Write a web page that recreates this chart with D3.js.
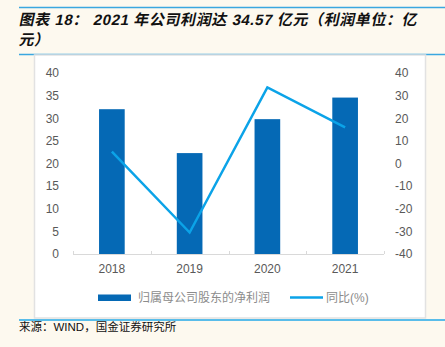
<!DOCTYPE html>
<html>
<head>
<meta charset="utf-8">
<script src="https://cdn.jsdelivr.net/npm/d3@7"></script>
<style>
  html, body { margin: 0; padding: 0; background: #fdf9ef; }
  svg { display: block; }
  text { font-family: "Liberation Sans", "Noto Sans CJK SC", sans-serif; }
</style>
</head>
<body>
<div id="chart"></div>
<script>
// data: net profit attributable to parent (100m yuan) and yoy growth (%)
var years = ["2018", "2019", "2020", "2021"];
var profit = [32.0, 22.3, 29.8, 34.57];
var yoy = [5.2, -30.5, 33.6, 16.0];
var leftTicks = [0, 5, 10, 15, 20, 25, 30, 35, 40];
var rightTicks = [-40, -30, -20, -10, 0, 10, 20, 30, 40];

var w = 445, h = 347;
var plot = { left: 73, right: 384, top: 73, bottom: 254 };

var svg = d3.select("#chart").append("svg")
    .attr("width", w)
    .attr("height", h);

// background + header lines
svg.append("rect").attr("width", w).attr("height", h).attr("fill", "#fdf9ef");
svg.append("line").attr("x1", 19).attr("x2", w).attr("y1", 7.5).attr("y2", 7.5)
    .attr("stroke", "#3aa7e0").attr("stroke-width", 1.5);
svg.append("line").attr("x1", 19).attr("x2", w).attr("y1", 54.5).attr("y2", 54.5)
    .attr("stroke", "#3aa7e0").attr("stroke-width", 1.5);

// title
var title = svg.append("g")
    .attr("font-family", "'Noto Sans CJK SC', sans-serif")
    .attr("font-weight", "bold")
    .attr("font-size", 15)
    .attr("letter-spacing", 0.6)
    .attr("fill", "#111");
title.append("text").attr("x", 19).attr("y", 25)
    .attr("transform", "skewX(-12) translate(5,0)")
    .text("图表 18： 2021 年公司利润达 34.57 亿元（利润单位：亿");
title.append("text").attr("x", 19).attr("y", 45)
    .attr("transform", "skewX(-12) translate(9,0)")
    .text("元）");

// white chart panel
svg.append("rect")
    .attr("x", 34.5).attr("y", 55)
    .attr("width", 391).attr("height", 263)
    .attr("fill", "#fff")
    .attr("stroke", "#e2e2e2")
    .attr("stroke-width", 1.5);

// bottom line + source
svg.append("line").attr("x1", 19).attr("x2", w).attr("y1", 320).attr("y2", 320)
    .attr("stroke", "#22a8e8").attr("stroke-width", 1.5);
svg.append("text")
    .attr("x", 19).attr("y", 331)
    .attr("font-size", 11.5)
    .attr("fill", "#111")
    .attr("font-family", "'Noto Sans CJK SC', sans-serif")
    .text("来源：WIND，国金证券研究所");

// scales
var xScale = d3.scaleBand()
    .domain(years)
    .range([plot.left, plot.right])
    .padding(0);

var yLeft = d3.scaleLinear()
    .domain([0, 40])
    .range([plot.bottom, plot.top]);

var yRight = d3.scaleLinear()
    .domain([-40, 40])
    .range([plot.bottom, plot.top]);

var barW = xScale.bandwidth() * 0.33;
var plain = function(d) { return String(d); };

// left axis labels
svg.append("g")
    .attr("transform", "translate(59,0)")
    .call(d3.axisLeft(yLeft).tickValues(leftTicks).tickFormat(plain).tickSize(0).tickPadding(0))
    .call(function(g) { g.select(".domain").remove(); })
    .selectAll("text")
    .attr("font-size", 12)
    .attr("fill", "#595959")
    .attr("font-family", "'Liberation Sans', sans-serif");

// right axis labels (plain hyphen for negatives)
svg.append("g")
    .attr("transform", "translate(395,0)")
    .call(d3.axisRight(yRight).tickValues(rightTicks).tickFormat(plain).tickSize(0).tickPadding(0))
    .call(function(g) { g.select(".domain").remove(); })
    .selectAll("text")
    .attr("font-size", 12)
    .attr("fill", "#595959")
    .attr("font-family", "'Liberation Sans', sans-serif");

// bars
svg.selectAll("rect.bar")
    .data(profit)
    .enter()
    .append("rect")
    .attr("class", "bar")
    .attr("x", function(d, i) { return xScale(years[i]) + (xScale.bandwidth() - barW) / 2; })
    .attr("y", function(d) { return yLeft(d); })
    .attr("width", barW)
    .attr("height", function(d) { return plot.bottom - yLeft(d); })
    .attr("fill", "#0569b5");

// x axis baseline with inward ticks at band edges
svg.append("line")
    .attr("x1", plot.left).attr("x2", plot.right)
    .attr("y1", plot.bottom + 0.5).attr("y2", plot.bottom + 0.5)
    .attr("stroke", "#d9d9d9");
var edges = years.map(function(y) { return xScale(y); }).concat([plot.right]);
svg.selectAll("line.tick-mark")
    .data(edges)
    .enter()
    .append("line")
    .attr("class", "tick-mark")
    .attr("x1", function(d) { return Math.round(d) + 0.5; })
    .attr("x2", function(d) { return Math.round(d) + 0.5; })
    .attr("y1", plot.bottom - 3).attr("y2", plot.bottom)
    .attr("stroke", "#d9d9d9");

// year labels
svg.selectAll("text.year")
    .data(years)
    .enter()
    .append("text")
    .attr("class", "year")
    .attr("x", function(d) { return xScale(d) + xScale.bandwidth() / 2; })
    .attr("y", 273)
    .attr("text-anchor", "middle")
    .attr("font-size", 12)
    .attr("fill", "#595959")
    .text(function(d) { return d; });

// yoy line
var line = d3.line()
    .x(function(d, i) { return xScale(years[i]) + xScale.bandwidth() / 2; })
    .y(function(d) { return yRight(d); });

svg.append("path")
    .datum(yoy)
    .attr("d", line)
    .attr("fill", "none")
    .attr("stroke", "#0ba3e8")
    .attr("stroke-width", 2.5)
    .attr("stroke-linejoin", "miter");

// legend
var legend = svg.append("g").attr("font-size", 12).attr("fill", "#8c8c8c");
legend.append("rect")
    .attr("x", 98).attr("y", 294.5)
    .attr("width", 33).attr("height", 6.5)
    .attr("fill", "#0569b5");
legend.append("text")
    .attr("x", 138).attr("y", 302)
    .attr("font-family", "'Noto Sans CJK SC', sans-serif")
    .text("归属母公司股东的净利润");
legend.append("line")
    .attr("x1", 290).attr("x2", 323)
    .attr("y1", 297.5).attr("y2", 297.5)
    .attr("stroke", "#0ba3e8")
    .attr("stroke-width", 2.5);
legend.append("text")
    .attr("x", 326).attr("y", 302)
    .attr("font-family", "'Noto Sans CJK SC', sans-serif")
    .text("同比(%)");
</script>
</body>
</html>
